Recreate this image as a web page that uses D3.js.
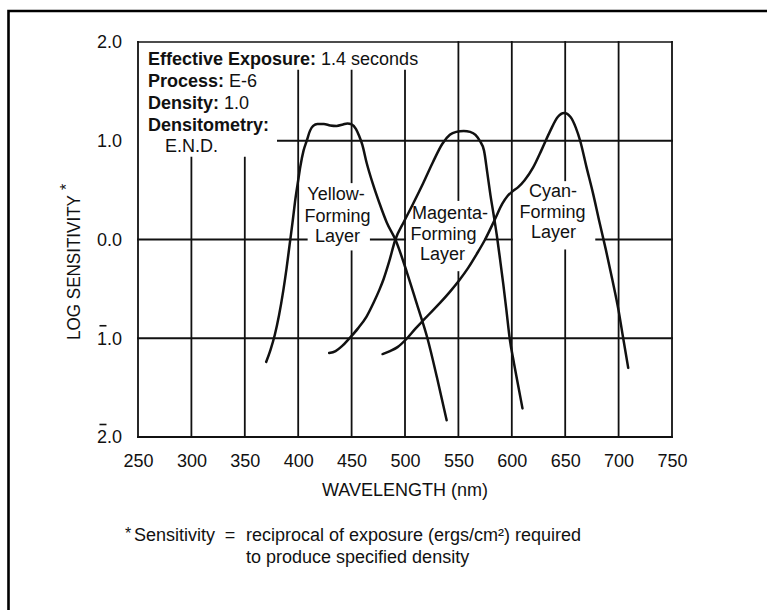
<!DOCTYPE html>
<html>
<head>
<meta charset="utf-8">
<script src="https://cdn.jsdelivr.net/npm/d3@7"></script>
<style>
  html, body { margin: 0; padding: 0; background: #fff; overflow: hidden; }
  svg { display: block; }
  text { font-family: "Liberation Sans", Arial, Helvetica, sans-serif; fill: #111; }
</style>
</head>
<body>
<svg id="chart" width="767" height="610"></svg>
<script>
// ---------- DATA ----------
const xTicks = [250, 300, 350, 400, 450, 500, 550, 600, 650, 700, 750];
const yTicks = [2, 1, 0, -1, -2];
const yTickLabels = ["2.0", "1.0", "0.0", "1.0", "2.0"];
const yTickBar = [false, false, false, true, true];   // bar notation (negative characteristic)

const yellowNm  = [370, 374, 378, 382, 386, 389, 392, 395, 397, 400, 402, 405, 408, 411, 414, 418, 424, 430, 436, 442, 446, 450, 454, 457, 460, 464, 470, 476, 483, 491, 502, 511, 521, 530, 539];
const yellowLog = [-1.24, -1.12, -0.97, -0.77, -0.52, -0.3, -0.05, 0.2, 0.38, 0.6, 0.74, 0.9, 1.0, 1.1, 1.15, 1.17, 1.17, 1.155, 1.15, 1.165, 1.175, 1.165, 1.12, 1.05, 0.96, 0.78, 0.56, 0.37, 0.17, 0.0, -0.34, -0.65, -1.0, -1.4, -1.83];

const magentaNm  = [429, 435, 441, 448, 456, 464, 471, 476, 480, 485, 491, 499, 507, 517, 526, 535, 542, 548, 555, 561, 566, 570, 574, 577, 580, 583, 586, 589, 592, 595, 598, 602, 606, 610];
const magentaLog = [-1.15, -1.13, -1.08, -1.0, -0.9, -0.78, -0.63, -0.51, -0.4, -0.23, 0.0, 0.18, 0.35, 0.57, 0.78, 0.97, 1.06, 1.09, 1.1, 1.09, 1.06, 1.0, 0.9, 0.68, 0.45, 0.25, 0.04, -0.2, -0.45, -0.72, -1.0, -1.25, -1.48, -1.71];

const cyanNm  = [479, 486, 493, 502, 510, 517, 525, 533, 542, 551, 559, 567, 575, 584, 591, 596, 601, 606, 612, 620, 628, 636, 643, 649, 655, 660, 664, 670, 676, 682, 688, 694, 700, 704, 709];
const cyanLog = [-1.16, -1.13, -1.09, -1.0, -0.9, -0.82, -0.73, -0.64, -0.53, -0.41, -0.29, -0.15, 0.0, 0.2, 0.36, 0.44, 0.49, 0.53, 0.6, 0.73, 0.91, 1.1, 1.24, 1.28, 1.24, 1.13, 1.0, 0.73, 0.47, 0.18, -0.1, -0.4, -0.72, -0.98, -1.3];

const infoBold    = ["Effective Exposure:", "Process:", "Density:", "Densitometry:", ""];
const infoRegular = [" 1.4 seconds", " E-6", " 1.0", "", "E.N.D."];

const layerLabels = [
  ["Yellow-", "Forming", "Layer"],
  ["Magenta-", "Forming", "Layer"],
  ["Cyan-", "Forming", "Layer"]
];

const xTitle = "WAVELENGTH (nm)";
const yTitle = "LOG SENSITIVITY";
const footLine1 = "reciprocal of exposure (ergs/cm\u00B2) required";
const footLine2 = "to produce specified density";

// ---------- CHART ----------
const svg = d3.select("#chart");
const ink = "#111";

const x = d3.scaleLinear().domain([250, 750]).range([138, 672]);
const y = d3.scaleLinear().domain([-2, 2]).range([437, 42]);

// page frame (top and left rules)
svg.append("path")
  .attr("d", "M8.5,610 L8.5,11 L767,11")
  .attr("fill", "none").attr("stroke", "#000").attr("stroke-width", 2.6);

// grid segments in data units (gaps where text sits)
const vGrid = [
  [250, [[-2, 2]]],
  [300, [[-2, 0.83]]],
  [350, [[-2, 0.83]]],
  [400, [[-2, 1.71]]],
  [450, [[-2, -0.12], [0.58, 1.71]]],
  [500, [[-2, 1.71]]],
  [550, [[-2, -0.33], [0.4, 2]]],
  [600, [[-2, 2]]],
  [650, [[-2, -0.11], [0.6, 2]]],
  [700, [[-2, 2]]],
  [750, [[-2, 2]]]
];
const hGrid = [
  [2, [[250, 750]]],
  [1, [[381, 750]]],
  [0, [[250, 408], [468, 500], [575, 600], [679, 750]]],
  [-1, [[250, 750]]],
  [-2, [[250, 750]]]
];

const grid = svg.append("g").attr("stroke", ink).attr("stroke-width", 1.8).attr("stroke-linecap", "square");
vGrid.forEach(([v, segs]) => segs.forEach(([a, b]) => {
  grid.append("line").attr("x1", x(v)).attr("x2", x(v)).attr("y1", y(a)).attr("y2", y(b));
}));
hGrid.forEach(([v, segs]) => segs.forEach(([a, b]) => {
  grid.append("line").attr("x1", x(a)).attr("x2", x(b)).attr("y1", y(v)).attr("y2", y(v))
    .attr("stroke-width", v === 2 ? 1.4 : 1.8);
}));

// axes (labels only)
const xAxis = svg.append("g").attr("transform", `translate(0,${y(-2)})`)
  .call(d3.axisBottom(x).tickValues(xTicks).tickSize(0).tickPadding(17).tickFormat(d3.format("d")));
xAxis.select(".domain").remove();
xAxis.selectAll("text").attr("font-size", 18).attr("font-family", null).style("fill", ink);

const yAxis = svg.append("g").attr("transform", `translate(${x(250)},0)`)
  .call(d3.axisLeft(y).tickValues(yTicks).tickSize(0).tickPadding(16)
    .tickFormat((d, i) => yTickLabels[i]));
yAxis.select(".domain").remove();
yAxis.selectAll("text").attr("font-size", 18).attr("font-family", null).style("fill", ink);
svg.selectAll(".tick line").remove();

// bar over the characteristic digit for negative logs
yAxis.selectAll(".tick").each(function (d, i) {
  if (!yTickBar[i]) return;
  const t = this.querySelector("text");
  const ext = t.getExtentOfChar(0);
  const cx = ext.x + ext.width / 2 + 1;
  const top = y(d) - 13;
  d3.select(this).append("line")
    .attr("x1", cx - 3.5 - 0).attr("x2", cx + 3.5)
    .attr("y1", top - y(d)).attr("y2", top - y(d))
    .attr("stroke", ink).attr("stroke-width", 1.6);
});

// curves
const line = d3.line().x(d => x(d[0])).y(d => y(d[1])).curve(d3.curveMonotoneX);
[[yellowNm, yellowLog], [magentaNm, magentaLog], [cyanNm, cyanLog]].forEach(([nm, lg]) => {
  svg.append("path")
    .datum(nm.map((n, i) => [n, lg[i]]))
    .attr("d", line)
    .attr("fill", "none").attr("stroke", ink).attr("stroke-width", 2.5)
    .attr("stroke-linejoin", "round").attr("stroke-linecap", "round");
});

// info block
const info = svg.append("g").attr("font-size", 18);
const infoY = [65, 87, 109, 131, 152];
infoBold.forEach((b, i) => {
  const t = info.append("text").attr("x", i === 4 ? 165 : 148).attr("y", infoY[i]).attr("xml:space", "preserve");
  if (b) t.append("tspan").attr("font-weight", "bold").text(b);
  if (infoRegular[i]) t.append("tspan").text(infoRegular[i]);
});

// layer labels
const labelX = [[336, 337.5, 337.5], [450, 443.5, 442.5], [553, 552.5, 553.5]];
const labelY = [[200, 222, 242], [219, 240, 260], [197, 218, 238]];
layerLabels.forEach((lines, k) => {
  lines.forEach((s, j) => {
    svg.append("text").attr("x", labelX[k][j]).attr("y", labelY[k][j])
      .attr("text-anchor", "middle").attr("font-size", 18).text(s);
  });
});

// axis titles
svg.append("text").attr("x", 405).attr("y", 496).attr("text-anchor", "middle")
  .attr("font-size", 18).text(xTitle);
svg.append("text").attr("transform", "translate(80,267.5) rotate(-90)")
  .attr("text-anchor", "middle").attr("font-size", 17.5)
  .attr("textLength", 145).attr("lengthAdjust", "spacingAndGlyphs").text(yTitle);
svg.append("text").attr("transform", "translate(72,187) rotate(-90)")
  .attr("text-anchor", "middle").attr("font-size", 16).text("*");

// footnote
svg.append("text").attr("x", 125).attr("y", 539).attr("font-size", 16).text("*");
svg.append("text").attr("x", 134).attr("y", 541).attr("font-size", 18).text("Sensitivity");
svg.append("text").attr("x", 230).attr("y", 541).attr("text-anchor", "middle").attr("font-size", 18).text("=");
svg.append("text").attr("x", 246).attr("y", 541).attr("font-size", 18).text(footLine1);
svg.append("text").attr("x", 246).attr("y", 563).attr("font-size", 18).text(footLine2);
</script>
</body>
</html>
